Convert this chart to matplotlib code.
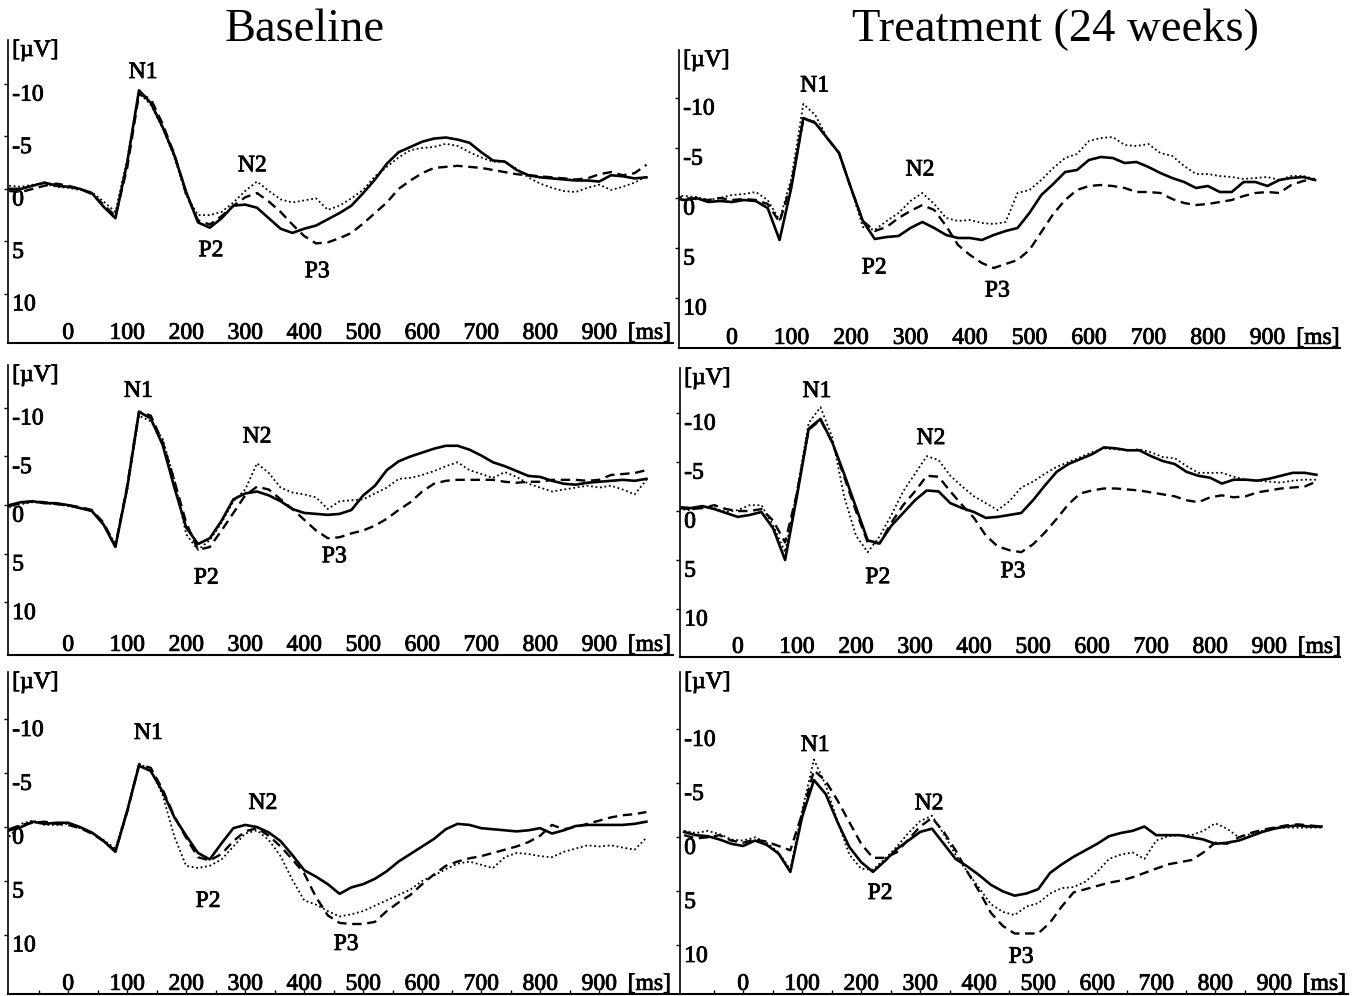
import matplotlib.pyplot as plt
import matplotlib.patheffects as pe

plt.rcParams['font.family'] = ['Liberation Serif', 'DejaVu Serif']

# time grid (ms), shared by every curve
t = [-100, -80, -60, -40, -20, 0, 20, 40, 60, 80,
     100, 120, 140, 160, 180, 200, 220, 240, 260, 280,
     300, 320, 340, 360, 380, 400, 420, 440, 460, 480,
     500, 520, 540, 560, 580, 600, 620, 640, 660, 680,
     700, 720, 740, 760, 780, 800, 820, 840, 860, 880,
     900, 920, 940, 960, 980]

# ---- Baseline, row 1 (uV, negative up)
b1_solid = [0.0, 0.0, -0.3, -0.6, -0.3, -0.2, 0.0, 0.4, 1.7, 2.8,
            -2.5, -9.4, -8.2, -5.9, -3.2, 0.3, 3.2, 3.7, 2.8, 1.6,
            1.5, 1.8, 2.8, 3.8, 4.2, 3.8, 3.5, 2.9, 2.3, 1.6,
            0.4, -0.9, -2.4, -3.5, -4.0, -4.5, -4.8, -4.9, -4.7, -4.4,
            -3.5, -2.7, -2.6, -1.8, -1.3, -1.1, -1.0, -0.9, -0.8, -0.8,
            -0.7, -1.3, -1.2, -1.0, -1.1]
b1_dot = [-0.3, -0.2, -0.4, -0.5, -0.2, -0.1, 0.1, 0.3, 1.2, 2.2,
          -2.8, -9.2, -8.0, -5.8, -3.0, 0.6, 2.5, 2.5, 2.2, 1.3,
          0.2, -0.7, 0.2, 1.0, 1.3, 1.1, 0.9, 2.0, 1.6, 0.9,
          0.1, -1.2, -2.1, -3.0, -3.7, -3.9, -4.0, -4.3, -4.1, -3.5,
          -3.0, -2.6, -2.6, -1.9, -1.1, -0.5, -0.1, 0.2, 0.3, -0.1,
          -0.4, 0.1, -0.2, -0.6, -1.2]
b1_dash = [0.2, 0.3, 0.0, -0.3, -0.5, -0.3, 0.0, 0.5, 1.5, 2.6,
           -2.0, -9.0, -8.6, -6.2, -3.3, 0.5, 3.0, 3.4, 2.6, 1.6,
           0.8, 0.4, 1.2, 2.2, 3.4, 4.5, 5.2, 5.1, 4.7, 4.2,
           3.3, 2.3, 1.3, 0.0, -0.8, -1.5, -2.0, -2.1, -2.2, -2.1,
           -2.0, -1.8, -1.6, -1.4, -1.3, -1.2, -1.1, -1.0, -0.9, -1.0,
           -1.4, -1.6, -1.3, -1.5, -2.3]

# ---- Treatment, row 1
t1_solid = [0.0, 0.2, 0.0, 0.4, 0.3, 0.4, 0.2, 0.3, 1.0, 4.2,
            -1.1, -8.0, -7.5, -6.0, -4.5, -1.0, 2.3, 4.1, 3.9, 3.8,
            3.0, 2.4, 3.0, 3.7, 4.0, 4.0, 4.2, 3.7, 3.3, 3.0,
            1.5, -0.3, -1.4, -2.6, -2.8, -3.8, -4.1, -4.0, -3.5, -3.6,
            -3.1, -2.5, -2.0, -1.6, -1.0, -1.2, -0.6, -0.6, -1.6, -1.6,
            -1.2, -1.8, -2.0, -2.1, -1.8]
t1_dot = [-0.3, -0.2, -0.1, 0.2, 0.0, -0.3, -0.4, -0.6, 0.2, 2.2,
          -2.0, -9.4, -8.3, -6.0, -4.5, -1.0, 2.9, 3.2, 2.3, 1.5,
          0.3, -0.5, 0.6, 2.0, 2.3, 2.2, 2.5, 2.6, 2.4, -0.5,
          -0.8, -1.8, -3.0, -4.0, -4.4, -5.7, -6.0, -6.1, -5.3, -5.2,
          -5.4, -4.5, -4.2, -3.2, -2.4, -2.4, -2.2, -2.1, -1.9, -2.0,
          -2.1, -1.8, -2.2, -2.2, -1.9]
t1_dash = [-0.2, 0.0, 0.1, 0.2, 0.0, 0.2, 0.1, 0.2, 0.6, 2.4,
           -1.5, -7.9, -7.6, -6.0, -4.5, -1.0, 2.3, 3.3, 2.9, 2.0,
           1.3, 0.7, 1.2, 2.8, 4.7, 5.7, 6.5, 7.0, 6.6, 6.2,
           5.2, 3.4, 1.6, 0.2, -0.8, -1.2, -1.3, -1.2, -1.0, -0.6,
           -0.6, -0.5, 0.1, 0.5, 0.7, 0.6, 0.4, 0.2, -0.2, -0.5,
           -0.6, -0.5, -1.3, -1.7, -1.9]

# ---- Baseline, row 2
b2_solid = [0.0, -0.3, -0.4, -0.2, -0.2, 0.0, 0.3, 0.6, 2.0, 4.3,
            -1.8, -9.6, -8.9, -6.2, -1.8, 2.3, 4.0, 3.4, 1.6, -0.6,
            -1.2, -1.4, -1.0, -0.4, 0.4, 0.8, 0.9, 1.0, 0.9, 0.5,
            -1.0, -2.0, -3.6, -4.5, -5.0, -5.4, -5.8, -6.1, -6.1, -5.7,
            -5.1, -4.4, -4.0, -3.5, -3.0, -2.9, -2.5, -2.2, -2.1, -2.3,
            -2.4, -2.5, -2.6, -2.5, -2.7]
b2_dot = [0.2, -0.1, -0.3, -0.2, -0.1, 0.1, 0.3, 0.6, 2.0, 4.0,
          -1.5, -9.2, -8.6, -6.8, -2.6, 3.0, 4.6, 3.6, 1.8, -0.4,
          -1.6, -4.3, -3.3, -1.8, -1.3, -1.1, -0.8, 0.4, -0.4, -0.5,
          -0.6, -1.2, -1.8, -2.7, -2.8, -3.1, -3.5, -4.0, -4.4, -3.6,
          -3.2, -2.8, -3.4, -2.9, -2.2, -1.8, -1.4, -1.6, -1.8, -2.0,
          -1.8, -2.0, -1.6, -1.1, -2.6]
b2_dash = [0.1, -0.2, -0.4, -0.3, -0.1, 0.0, 0.2, 0.5, 1.8, 4.2,
           -2.0, -9.6, -9.2, -6.5, -2.5, 1.8, 4.6, 4.3, 2.6, 0.8,
           -1.0, -1.9, -1.6, -0.6, 0.4, 1.5, 2.6, 3.4, 3.3, 2.9,
           2.6, 2.1, 1.4, 0.5, -0.3, -1.4, -2.2, -2.5, -2.6, -2.6,
           -2.6, -2.6, -2.4, -2.3, -2.4, -2.4, -2.6, -2.6, -2.6, -2.5,
           -2.6, -3.1, -3.2, -3.3, -3.6]

# ---- Treatment, row 2
t2_solid = [-0.4, -0.3, -0.5, -0.2, 0.2, 0.6, 0.4, 0.1, 1.8, 5.0,
            -1.5, -8.4, -9.4, -7.0, -3.8, -0.4, 3.0, 3.3, 1.5, 0.2,
            -1.1, -2.1, -2.0, -0.8, -0.3, 0.1, 0.7, 0.6, 0.4, 0.2,
            -1.1, -2.6, -4.0, -4.8, -5.3, -5.8, -6.5, -6.4, -6.2, -6.2,
            -5.6, -5.1, -4.8, -4.0, -3.6, -3.4, -2.8, -3.2, -3.2, -3.1,
            -3.3, -3.6, -3.9, -3.9, -3.7]
t2_dot = [-0.2, -0.1, -0.5, -0.3, 0.1, -0.1, -0.6, -0.6, 1.5, 4.2,
          -2.0, -9.0, -10.6, -7.5, -1.5, 2.5, 4.2, 2.6, 0.4, -2.0,
          -3.8, -5.6, -5.2, -3.6, -2.5, -1.5, -0.8, -0.1, -1.0, -2.4,
          -3.0, -3.8, -4.5, -5.0, -5.5, -6.0, -6.4, -6.3, -6.2, -6.3,
          -6.0, -5.5, -5.4, -4.6, -3.9, -3.9, -3.9, -3.5, -3.2, -3.1,
          -3.0, -2.9, -3.1, -3.2, -3.2]
t2_dash = [-0.3, -0.2, -0.3, -0.6, -0.2, 0.0, 0.0, -0.2, 1.0, 3.2,
           -1.8, -8.3, -9.3, -7.0, -3.5, 0.0, 3.2, 3.3, 1.2, -0.6,
           -2.0, -3.6, -3.5, -2.0, -0.6, 0.7, 2.5, 3.6, 4.0, 4.2,
           3.4, 2.2, 0.8, -0.7, -1.8, -2.1, -2.3, -2.3, -2.2, -2.1,
           -1.9, -1.7, -1.5, -1.1, -0.9, -1.4, -1.6, -1.4, -1.5, -1.9,
           -2.1, -2.3, -2.4, -2.5, -3.0]

# ---- Baseline, row 3
b3_solid = [0.3, 0.0, -0.5, -0.3, -0.4, -0.4, 0.0, 0.5, 1.3, 2.3,
            -1.5, -5.7, -5.2, -3.3, -0.9, 0.8, 2.4, 3.0, 1.5, 0.1,
            -0.2, 0.0, 0.5, 1.3, 2.6, 4.0, 4.6, 5.3, 6.2, 5.6,
            5.3, 4.8, 4.1, 3.2, 2.5, 1.8, 1.1, 0.2, -0.3, -0.2,
            0.1, 0.2, 0.3, 0.4, 0.3, 0.1, 0.6, 0.3, -0.1, -0.2,
            -0.2, -0.2, -0.2, -0.3, -0.5]
b3_dot = [0.9, -0.3, -0.6, -0.2, -0.2, -0.3, 0.1, 0.5, 1.2, 2.0,
          -1.6, -5.9, -5.3, -3.0, 0.9, 3.6, 3.8, 3.6, 3.0, 1.8,
          0.6, 0.3, 1.2, 2.7, 4.9, 6.8, 7.2, 7.8, 8.3, 8.1,
          7.8, 7.3, 6.8, 6.3, 5.8, 5.0, 4.5, 3.9, 3.4, 3.2,
          3.5, 3.8, 2.8, 2.4, 2.5, 2.7, 2.8, 2.3, 2.0, 1.7,
          1.8, 1.7, 1.9, 2.1, 1.0]
b3_dash = [0.2, -0.2, -0.4, -0.5, -0.3, -0.2, 0.1, 0.6, 1.3, 2.2,
           -1.4, -5.8, -5.5, -3.5, -1.0, 1.0, 2.8, 3.1, 2.5, 1.3,
           0.4, 0.1, 0.8, 1.8, 3.0, 4.3, 6.5, 8.2, 8.9, 9.0,
           9.0, 8.8, 7.8, 7.0, 6.3, 5.3, 4.4, 3.6, 3.2, 2.9,
           2.7, 2.4, 2.1, 1.8, 1.4, 0.8, -0.2, 0.2, 0.0, -0.3,
           -0.6, -0.9, -1.1, -1.2, -1.4]

# ---- Treatment, row 3
t3_solid = [-0.5, -0.2, -0.1, 0.2, 0.6, 0.8, 0.3, 0.7, 1.5, 3.2,
            -1.9, -5.3, -4.0, -1.4, 0.9, 2.3, 3.2, 2.2, 1.1, 0.3,
            -0.5, -0.8, 0.6, 2.0, 2.7, 3.5, 4.4, 5.0, 5.4, 5.2,
            4.8, 3.3, 2.5, 1.8, 1.2, 0.6, -0.1, -0.4, -0.6, -1.0,
            -0.2, -0.2, -0.2, 0.0, 0.2, 0.6, 0.5, 0.3, -0.1, -0.5,
            -0.8, -1.0, -1.1, -1.0, -1.0]
t3_dot = [-0.6, -0.4, -0.6, -0.3, 0.2, 0.3, 0.0, 0.5, 1.4, 3.0,
          -2.5, -7.2, -4.8, -1.5, 1.6, 2.9, 3.0, 2.0, 0.9, -0.4,
          -1.5, -2.0, -0.3, 1.6, 3.2, 4.7, 6.2, 6.9, 7.2, 6.4,
          6.1, 5.2, 4.7, 4.6, 4.1, 3.2, 2.0, 1.6, 1.4, 2.0,
          0.3, -0.1, -0.2, -0.2, -0.6, -1.3, -0.8, 0.0, -0.3, -0.6,
          -0.9, -0.9, -0.9, -0.9, -0.9]
t3_dash = [-0.2, 0.1, 0.0, -0.2, 0.3, 0.5, 0.2, 0.4, 0.8, 1.2,
           -2.2, -6.2, -5.2, -3.4, -1.4, 0.6, 1.9, 1.9, 1.4, 0.2,
           -1.0, -1.8, -0.5, 1.2, 3.2, 5.0, 7.0, 8.2, 8.9, 8.9,
           8.9, 7.9, 6.4, 5.1, 4.8, 4.5, 4.2, 4.0, 3.7, 3.3,
           2.9, 2.5, 2.3, 2.1, 1.4, 0.5, 0.6, 0.0, -0.4, -0.7,
           -0.9, -1.1, -1.2, -1.1, -1.0]

# peak labels (ms, uV) per panel
peak_names = ['N1', 'N2', 'P2', 'P3']
b1_peaks = [(127, -11.1), (312, -2.2), (242, 5.9), (422, 7.9)]
t1_peaks = [(139, -11.2), (316, -2.8), (239, 7.0), (446, 9.3)]
b2_peaks = [(119, -11.7), (320, -7.0), (234, 7.5), (451, 5.3)]
t2_peaks = [(134, -12.2), (327, -7.4), (237, 6.8), (466, 6.2)]
b3_peaks = [(136, -8.7), (330, -2.2), (237, 6.9), (471, 10.9)]
t3_peaks = [(122, -8.5), (315, -3.1), (232, 5.2), (471, 11.1)]

yticks = [-10, -5, 0, 5, 10]
xticks = [0, 100, 200, 300, 400, 500, 600, 700, 800, 900]
titles = ['Baseline', 'Treatment (24 weeks)']

W, H = 1354, 996
fig = plt.figure(figsize=(W / 100, H / 100), dpi=100)

# (pixel box left, top, right, bottom), xlim, ylim
layout = [
    ((8, 40, 673, 343), (-102, 1025), (14.7, -14.2)),
    ((679, 50, 1340, 348), (-89, 1022), (15.0, -14.8)),
    ((8, 365, 673, 655), (-102, 1025), (15.4, -14.4)),
    ((680, 368, 1340, 657), (-98, 1020), (14.9, -14.6)),
    ((8, 672, 680, 994), (-102, 1037), (15.5, -14.4)),
    ((680, 672, 1348, 994), (-107, 1025), (14.5, -15.3)),
]
curves = [
    (b1_solid, b1_dot, b1_dash, b1_peaks),
    (t1_solid, t1_dot, t1_dash, t1_peaks),
    (b2_solid, b2_dot, b2_dash, b2_peaks),
    (t2_solid, t2_dot, t2_dash, t2_peaks),
    (b3_solid, b3_dot, b3_dash, b3_peaks),
    (t3_solid, t3_dot, t3_dash, t3_peaks),
]

fs = 17
heavy = [pe.withStroke(linewidth=0.6, foreground='black')]
for i, ((l, tp, r, b), xl, yl) in enumerate(layout):
    ax = fig.add_axes([l / W, 1 - b / H, (r - l) / W, (b - tp) / H])
    solid, dot, dash, peaks = curves[i]
    ax.plot(t, solid, color='black', lw=1.9)
    ax.plot(t, dot, color='black', lw=1.3, linestyle=(0, (1, 1.5)))
    ax.plot(t, dash, color='black', lw=1.7, linestyle=(0, (4, 2.4)))
    ax.set_xlim(xl)
    ax.set_ylim(yl)
    for sp in ['top', 'right']:
        ax.spines[sp].set_visible(False)
    ax.spines['left'].set_linewidth(1.2)
    ax.spines['bottom'].set_linewidth(1.5)
    ax.set_yticks(yticks)
    ax.set_yticklabels([])
    ax.tick_params(axis='y', direction='out', length=3, width=1)
    if i >= 4:
        ax.set_xticks(range(-50, 1000, 50))
        ax.tick_params(axis='x', direction='in', length=3, width=1)
    else:
        ax.set_xticks([])
    ax.set_xticklabels([])

    for v in yticks:
        ax.annotate(str(v), xy=(0, v), xycoords=ax.get_yaxis_transform(),
                    xytext=(3, -8), textcoords='offset points',
                    ha='left', va='center', fontsize=fs, path_effects=heavy)
    for x in xticks:
        ax.annotate(str(x), xy=(x, 0), xycoords=ax.get_xaxis_transform(),
                    xytext=(0, 3), textcoords='offset points',
                    ha='center', va='baseline', fontsize=fs, path_effects=heavy)
    ax.annotate('[ms]', xy=(985, 0), xycoords=ax.get_xaxis_transform(),
                xytext=(0, 3), textcoords='offset points',
                ha='center', va='baseline', fontsize=fs, path_effects=heavy)
    ax.annotate('[\u00b5V]', xy=(0, 1), xycoords='axes fraction',
                xytext=(3, 0), textcoords='offset points',
                ha='left', va='top', fontsize=fs, path_effects=heavy)
    for name, (px, py) in zip(peak_names, peaks):
        ax.text(px, py, name, ha='center', va='center', fontsize=fs,
                path_effects=heavy)

fig.text(305 / W, 1 - 30 / H, titles[0], ha='center', va='center', fontsize=33.5)
fig.text(1055 / W, 1 - 30 / H, titles[1], ha='center', va='center', fontsize=33.5)

fig.savefig('out.png', dpi=100)
